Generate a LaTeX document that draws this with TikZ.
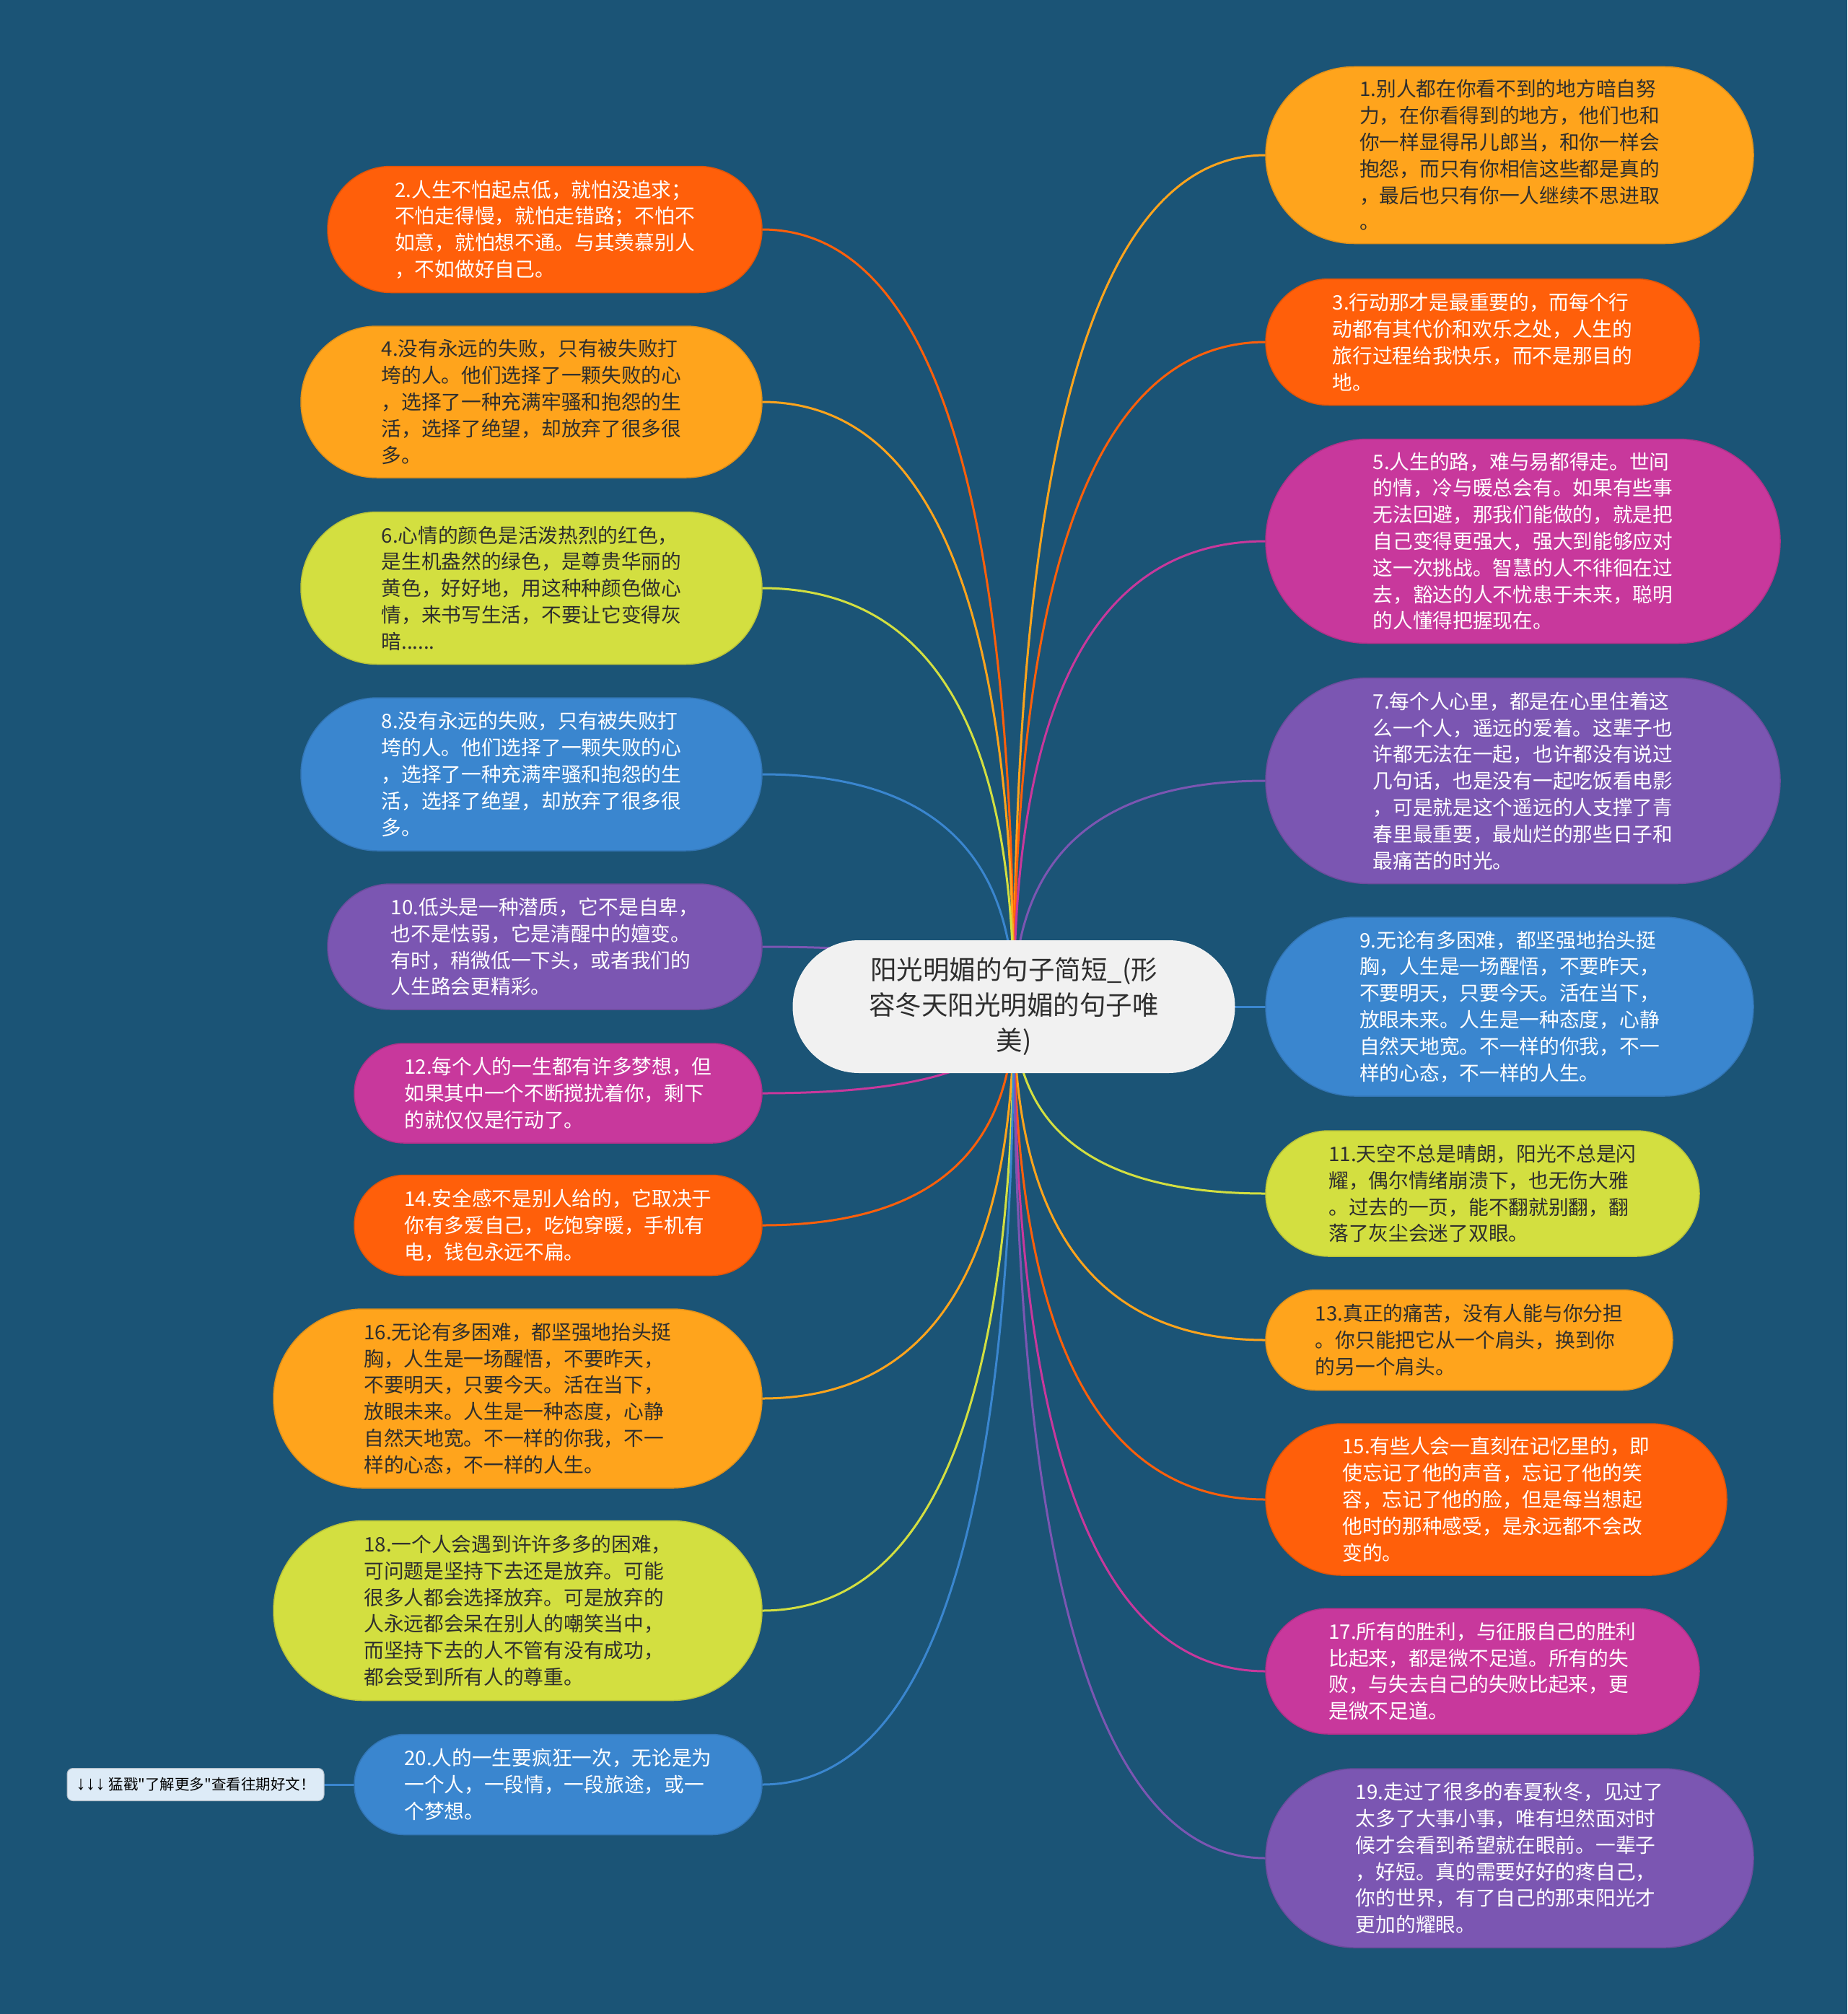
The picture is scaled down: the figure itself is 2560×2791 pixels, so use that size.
\documentclass[tikz,border=0pt]{standalone}
\usepackage{fontspec}
\newfontfamily\cjk{Noto Sans CJK SC}
\newfontfamily\arrfont{Liberation Sans}
\usetikzlibrary{calc}
\pgfdeclarelayer{bg}
\pgfdeclarelayer{lines}
\pgfsetlayers{bg,lines,main}
\definecolor{bgc}{HTML}{1B5476}
\definecolor{orng}{HTML}{FF5F0A}
\definecolor{ambr}{HTML}{FFA41C}
\definecolor{ygrn}{HTML}{D3DF40}
\definecolor{blu}{HTML}{3A86CF}
\definecolor{purp}{HTML}{7B56B2}
\definecolor{mgnt}{HTML}{C8389C}
\definecolor{ctrf}{HTML}{F1F1F1}
\definecolor{tagf}{HTML}{DDEBF7}
\definecolor{dtxt}{HTML}{2E2E2E}
\tikzset{
  bub/.style={inner sep=0pt, outer sep=0pt, align=left, line width=1.5pt,
    font=\cjk\fontsize{27.7}{36.8}\selectfont},
  sorng/.style={fill=orng, draw=orng!88!black, text=white},
  sambr/.style={fill=ambr, draw=ambr!88!black, text=dtxt},
  sygrn/.style={fill=ygrn, draw=ygrn!88!black, text=dtxt},
  sblu/.style={fill=blu, draw=blu!88!black, text=white},
  spurp/.style={fill=purp, draw=purp!88!black, text=white},
  smgnt/.style={fill=mgnt, draw=mgnt!88!black, text=white},
  conn/.style={line width=3pt}
}
\newcommand\bubble[8]{%
  \node[bub, #7, anchor=#2, minimum width=#5pt, minimum height=#6pt,
    rounded corners=#6pt/2] (#1) at (#3,#4) {#8};}
\begin{document}
\begin{tikzpicture}[x=1pt,y=-1pt]
\begin{pgfonlayer}{bg}
\fill[bgc] (0,0) rectangle (2560,2791);
\end{pgfonlayer}
\useasboundingbox (0,0) rectangle (2560,2791);

% center
\node[inner sep=0pt, outer sep=0pt, fill=ctrf, text=dtxt, align=center,
  minimum width=613pt, minimum height=184pt, rounded corners=92pt,
  font=\cjk\fontsize{36.5}{49}\selectfont] (c) at (1405,1395)
  {阳光明媚的句子简短\_(形\\容冬天阳光明媚的句子唯\\美)};

% left column
\bubble{n2}{east}{1056}{318}{602}{175}{sorng}{2.人生不怕起点低，就怕没追求；\\不怕走得慢，就怕走错路；不怕不\\如意，就怕想不通。与其羡慕别人\\，不如做好自己。}
\bubble{n4}{east}{1056}{557}{639}{210}{sambr}{4.没有永远的失败，只有被失败打\\垮的人。他们选择了一颗失败的心\\，选择了一种充满牢骚和抱怨的生\\活，选择了绝望，却放弃了很多很\\多。}
\bubble{n6}{east}{1056}{815}{639}{211}{sygrn}{6.心情的颜色是活泼热烈的红色，\\是生机盎然的绿色，是尊贵华丽的\\黄色，好好地，用这种种颜色做心\\情，来书写生活，不要让它变得灰\\暗......}
\bubble{n8}{east}{1056}{1073}{639}{212}{sblu}{8.没有永远的失败，只有被失败打\\垮的人。他们选择了一颗失败的心\\，选择了一种充满牢骚和抱怨的生\\活，选择了绝望，却放弃了很多很\\多。}
\bubble{n10}{east}{1056}{1312}{602}{174}{spurp}{10.低头是一种潜质，它不是自卑，\\也不是怯弱，它是清醒中的嬗变。\\有时，稍微低一下头，或者我们的\\人生路会更精彩。}
\bubble{n12}{east}{1056}{1515}{565}{138}{smgnt}{12.每个人的一生都有许多梦想，但\\如果其中一个不断搅扰着你，剩下\\的就仅仅是行动了。}
\bubble{n14}{east}{1056}{1698}{565}{139}{sorng}{14.安全感不是别人给的，它取决于\\你有多爱自己，吃饱穿暖，手机有\\电，钱包永远不扁。}
\bubble{n16}{east}{1056}{1938}{677}{248}{sambr}{16.无论有多困难，都坚强地抬头挺\\胸，人生是一场醒悟，不要昨天，\\不要明天，只要今天。活在当下，\\放眼未来。人生是一种态度，心静\\自然天地宽。不一样的你我，不一\\样的心态，不一样的人生。}
\bubble{n18}{east}{1056}{2232}{677}{249}{sygrn}{18.一个人会遇到许许多多的困难，\\可问题是坚持下去还是放弃。可能\\很多人都会选择放弃。可是放弃的\\人永远都会呆在别人的嘲笑当中，\\而坚持下去的人不管有没有成功，\\都会受到所有人的尊重。}
\bubble{n20}{east}{1056}{2473}{565}{139}{sblu}{20.人的一生要疯狂一次，无论是为\\一个人，一段情，一段旅途，或一\\个梦想。}

% right column
\bubble{n1}{west}{1754}{215}{676}{245}{sambr}{1.别人都在你看不到的地方暗自努\\力，在你看得到的地方，他们也和\\你一样显得吊儿郎当，和你一样会\\抱怨，而只有你相信这些都是真的\\，最后也只有你一人继续不思进取\\。}
\bubble{n3}{west}{1754}{474}{601}{175}{sorng}{3.行动那才是最重要的，而每个行\\动都有其代价和欢乐之处，人生的\\旅行过程给我快乐，而不是那目的\\地。}
\bubble{n5}{west}{1754}{750}{713}{283}{smgnt}{5.人生的路，难与易都得走。世间\\的情，冷与暖总会有。如果有些事\\无法回避，那我们能做的，就是把\\自己变得更强大，强大到能够应对\\这一次挑战。智慧的人不徘徊在过\\去，豁达的人不忧患于未来，聪明\\的人懂得把握现在。}
\bubble{n7}{west}{1754}{1082}{713}{285}{spurp}{7.每个人心里，都是在心里住着这\\么一个人，遥远的爱着。这辈子也\\许都无法在一起，也许都没有说过\\几句话，也是没有一起吃饭看电影\\，可是就是这个遥远的人支撑了青\\春里最重要，最灿烂的那些日子和\\最痛苦的时光。}
\bubble{n9}{west}{1754}{1395}{676}{248}{sblu}{9.无论有多困难，都坚强地抬头挺\\胸，人生是一场醒悟，不要昨天，\\不要明天，只要今天。活在当下，\\放眼未来。人生是一种态度，心静\\自然天地宽。不一样的你我，不一\\样的心态，不一样的人生。}
\bubble{n11}{west}{1754}{1654}{601}{174}{sygrn}{11.天空不总是晴朗，阳光不总是闪\\耀，偶尔情绪崩溃下，也无伤大雅\\。过去的一页，能不翻就别翻，翻\\落了灰尘会迷了双眼。}
\bubble{n13}{west}{1754}{1857}{564}{139}{sambr}{13.真正的痛苦，没有人能与你分担\\。你只能把它从一个肩头，换到你\\的另一个肩头。}
\bubble{n15}{west}{1754}{2078}{639}{210}{sorng}{15.有些人会一直刻在记忆里的，即\\使忘记了他的声音，忘记了他的笑\\容，忘记了他的脸，但是每当想起\\他时的那种感受，是永远都不会改\\变的。}
\bubble{n17}{west}{1754}{2316}{601}{174}{smgnt}{17.所有的胜利，与征服自己的胜利\\比起来，都是微不足道。所有的失\\败，与失去自己的失败比起来，更\\是微不足道。}
\bubble{n19}{west}{1754}{2575}{676}{248}{spurp}{19.走过了很多的春夏秋冬，见过了\\太多了大事小事，唯有坦然面对时\\候才会看到希望就在眼前。一辈子\\，好短。真的需要好好的疼自己，\\你的世界，有了自己的那束阳光才\\更加的耀眼。}

% tag
\node[inner sep=0pt, outer sep=0pt, fill=tagf, draw=tagf!80!black, line width=1pt,
  text=black, minimum width=356pt, minimum height=45pt, rounded corners=8pt,
  font=\cjk\fontsize{20.5}{24}\selectfont] (tag) at (271,2473)
  {{\arrfont\fontsize{27}{24}\selectfont ↓↓↓} 猛戳"了解更多"查看往期好文！};

\begin{pgfonlayer}{lines}
\foreach \n/\a/\col in {n1/west/ambr, n3/west/orng, n5/west/mgnt, n7/west/purp,
  n9/west/blu, n11/west/ygrn, n13/west/ambr, n15/west/orng, n17/west/mgnt,
  n19/west/purp, n2/east/orng, n4/east/ambr, n6/east/ygrn, n8/east/blu,
  n10/east/purp, n12/east/mgnt, n14/east/orng, n16/east/ambr, n18/east/ygrn,
  n20/east/blu}
  \draw[conn, draw=\col] (c.center)
    .. controls ($(c.center)!0.6667!(c.center |- \n.\a)$)
    and ($(\n.\a)!0.6667!(c.center |- \n.\a)$) .. (\n.\a);
\draw[conn, draw=blu] (tag.east) -- (n20.west);
\end{pgfonlayer}
\end{tikzpicture}
\end{document}
